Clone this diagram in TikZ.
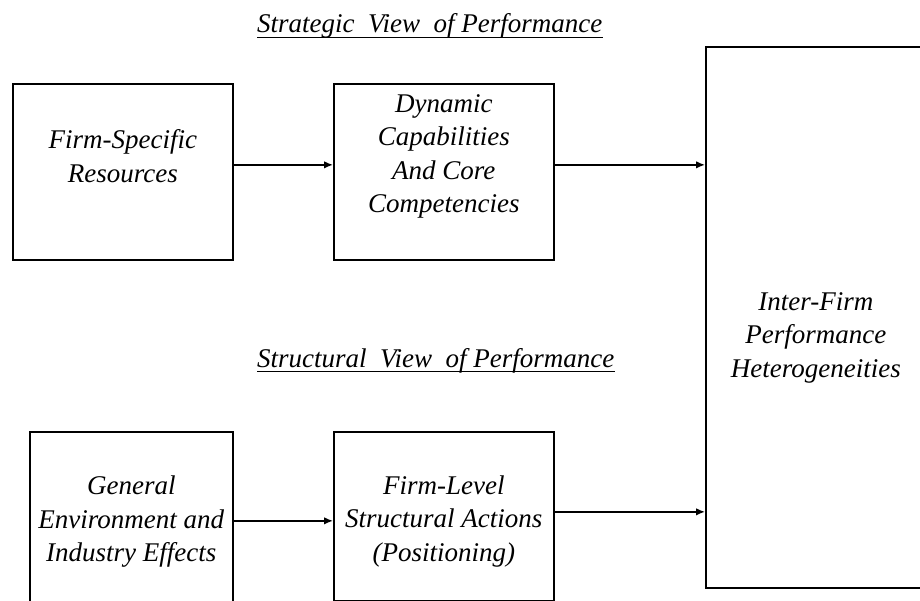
\documentclass[tikz,border=0pt]{standalone}
\usepackage{fontspec}
\setmainfont{Liberation Serif}[ItalicFont={Liberation Serif Italic}]
\usetikzlibrary{arrows.meta,positioning}
\tikzset{%
	viewbox/.style   = {draw, rectangle, line width=1.7pt, anchor=north west, inner sep=0pt},
	boxtext/.style   = {align=center, inner sep=0pt, font=\fontsize{27}{33.5}\selectfont\itshape},
	viewtitle/.style = {anchor=base west, inner sep=0pt, font=\fontsize{27}{30}\selectfont\itshape},
	arrow/.style     = {line width=1.4pt, -{Latex[length=9pt,width=7.5pt]}},
}
\begin{document}
\begin{tikzpicture}[x=1pt,y=-1pt]
	\useasboundingbox (0,0) rectangle (920,601);
	
	% titles of the two views
	\node[viewtitle] (strategic) at (257,33) {Strategic \ View \ of Performance};
	\draw[line width=1.3pt] ([yshift=-4.5pt]strategic.base west) -- ([yshift=-4.5pt]strategic.base east);
	\node[viewtitle] (structural) at (257,367) {Structural \ View \ of Performance};
	\draw[line width=1.3pt] ([yshift=-4.5pt]structural.base west) -- ([yshift=-4.5pt]structural.base east);
	
	% boxes
	\node[viewbox, minimum width=220pt, minimum height=176pt] (fsr) at (12,83) {};
	\node[viewbox, minimum width=220pt, minimum height=176pt] (dyn) at (333,83) {};
	\node[viewbox, minimum width=220pt, minimum height=541pt] (perf) at (705,46) {};
	\node[viewbox, minimum width=203pt, minimum height=180pt] (env) at (29,431) {};
	\node[viewbox, minimum width=220pt, minimum height=169pt] (pos) at (333,431) {};
	
	% texts in the boxes
	\node[boxtext] (fsrtext) at ([yshift=15.5pt]fsr.center) {Firm-Specific\\Resources};
	\node[boxtext] (dyntext) at ([yshift=15.5pt]dyn.center) {Dynamic\\Capabilities\\And Core\\Competencies};
	\node[boxtext] (perftext) at ([yshift=-20.5pt]perf.center) {Inter-Firm\\Performance\\Heterogeneities};
	\node[boxtext] (envtext) at (env.center) {General\\Environment and\\Industry Effects};
	\node[boxtext] (postext) at ([yshift=-5pt]pos.center) {Firm-Level\\Structural Actions\\(Positioning)};
	
	% arrows
	\draw[arrow] ([yshift=7pt]fsr.east) -- ([yshift=7pt]dyn.west);
	\draw[arrow] ([yshift=7pt]dyn.east) -- ([yshift=7pt]dyn.east -| perf.west);
	\draw[arrow] ([yshift=1pt]env.east) -- ([yshift=1pt]env.east -| pos.west);
	\draw[arrow] ([yshift=4.5pt]pos.east) -- ([yshift=4.5pt]pos.east -| perf.west);
\end{tikzpicture}
\end{document}
